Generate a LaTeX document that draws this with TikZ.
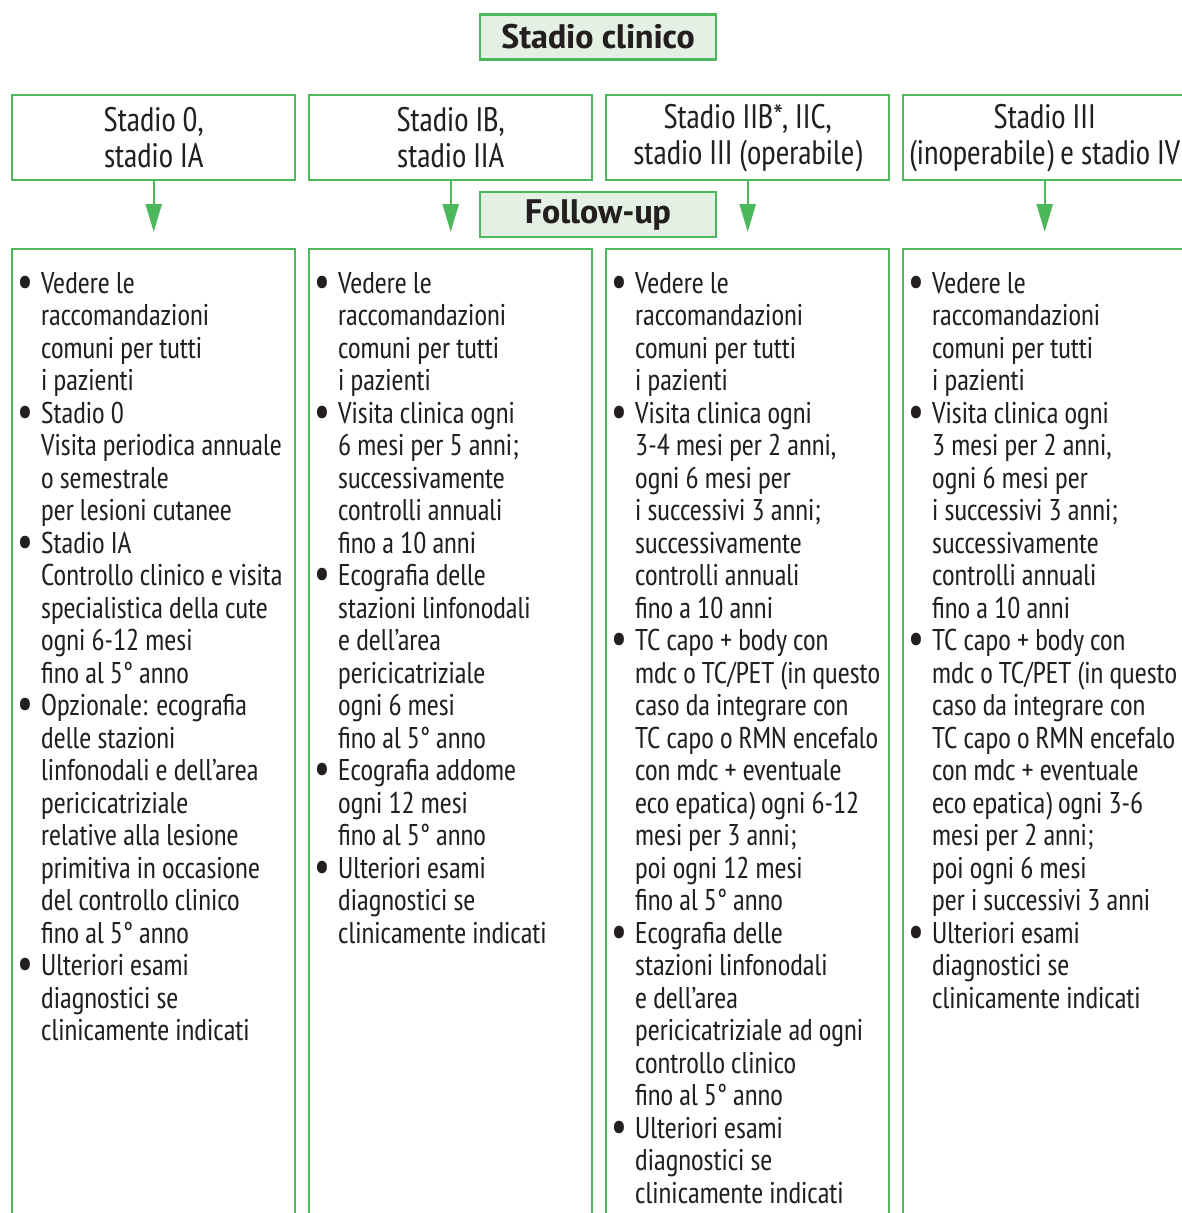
\documentclass[tikz,border=0pt]{standalone}
\usepackage{fontspec}
\setmainfont{PT Sans Narrow}[FakeStretch=0.97,BoldFeatures={FakeStretch=1.2}]
\usetikzlibrary{positioning,arrows.meta}
\definecolor{lgreen}{HTML}{4CB85C}
\definecolor{pgreen}{HTML}{E3F0E3}
\definecolor{ink}{HTML}{231F20}
\tikzset{
  stadiobox/.style={draw=lgreen,line width=2.4pt,minimum width=283pt,minimum height=85pt,inner sep=0pt,anchor=north west,align=center,font=\fontsize{34}{36}\selectfont,text=ink},
  fubox/.style={draw=lgreen,line width=2.4pt,minimum width=283pt,minimum height=1100pt,anchor=north west},
  titlebox/.style={draw=lgreen,fill=pgreen,line width=2.4pt,minimum width=236pt,minimum height=45pt,inner sep=0pt,font=\bfseries\fontsize{34}{36}\selectfont,text=ink},
  voci/.style={inner sep=0pt,below right=22.5pt and 9pt of #1,font=\fontsize{30}{32.5}\selectfont,text=ink},
  freccia/.style={draw=lgreen,line width=2.4pt,-{Triangle[width=16pt,length=28pt]},shorten >=16pt},
}
\newcommand{\vv}{\hspace*{-3pt}\raisebox{-3pt}{\scalebox{1.5}{\textbullet}}}
\newcommand{\elenco}[1]{\begin{tabular}{@{}p{21pt}@{}l@{}}#1\end{tabular}}
\begin{document}
\begin{tikzpicture}[x=1pt,y=1pt]
  \useasboundingbox (0,0) rectangle (1182,-1213);
  \clip (0,0) rectangle (1182,-1213);
  \node[titlebox] (clin) at (598,-37) {Stadio clinico};
  \node[stadiobox] (s1) at (11,-94) {Stadio 0,\\stadio IA};
  \node[stadiobox] (s2) at (308,-94) {Stadio IB,\\stadio IIA};
  \node[stadiobox] (s3) at (605,-94) {Stadio IIB*, IIC,\\stadio III (operabile)};
  \node[stadiobox] (s4) at (902,-94) {Stadio III\\(inoperabile) e stadio IV};
  \node[titlebox] (fup) at (598,-214.5) {Follow-up};
  \node[fubox] (f1) at (11,-248) {};
  \node[fubox] (f2) at (308,-248) {};
  \node[fubox] (f3) at (605,-248) {};
  \node[fubox] (f4) at (902,-248) {};
  \draw[freccia] (s1) -- (f1);
  \draw[freccia] (s2) -- (f2);
  \draw[freccia] (s3) -- (f3);
  \draw[freccia] (s4) -- (f4);
  \node[voci=f1.north west] (t1) {\elenco{%
    \vv & Vedere le\\ & raccomandazioni\\ & comuni per tutti\\ & i pazienti\\
    \vv & Stadio 0\\ & Visita periodica annuale\\ & o semestrale\\ & per lesioni cutanee\\
    \vv & Stadio IA\\ & Controllo clinico e visita\\ & specialistica della cute\\ & ogni 6-12 mesi\\ & fino al 5° anno\\
    \vv & Opzionale: ecografia\\ & delle stazioni\\ & linfonodali e dell’area\\ & pericicatriziale\\ & relative alla lesione\\ & primitiva in occasione\\ & del controllo clinico\\ & fino al 5° anno\\
    \vv & Ulteriori esami\\ & diagnostici se\\ & clinicamente indicati}};
  \node[voci=f2.north west] (t2) {\elenco{%
    \vv & Vedere le\\ & raccomandazioni\\ & comuni per tutti\\ & i pazienti\\
    \vv & Visita clinica ogni\\ & 6 mesi per 5 anni;\\ & successivamente\\ & controlli annuali\\ & fino a 10 anni\\
    \vv & Ecografia delle\\ & stazioni linfonodali\\ & e dell’area\\ & pericicatriziale\\ & ogni 6 mesi\\ & fino al 5° anno\\
    \vv & Ecografia addome\\ & ogni 12 mesi\\ & fino al 5° anno\\
    \vv & Ulteriori esami\\ & diagnostici se\\ & clinicamente indicati}};
  \node[voci=f3.north west] (t3) {\elenco{%
    \vv & Vedere le\\ & raccomandazioni\\ & comuni per tutti\\ & i pazienti\\
    \vv & Visita clinica ogni\\ & 3-4 mesi per 2 anni,\\ & ogni 6 mesi per\\ & i successivi 3 anni;\\ & successivamente\\ & controlli annuali\\ & fino a 10 anni\\
    \vv & TC capo + body con\\ & mdc o TC/PET (in questo\\ & caso da integrare con\\ & TC capo o RMN encefalo\\ & con mdc + eventuale\\ & eco epatica) ogni 6-12\\ & mesi per 3 anni;\\ & poi ogni 12 mesi\\ & fino al 5° anno\\
    \vv & Ecografia delle\\ & stazioni linfonodali\\ & e dell’area\\ & pericicatriziale ad ogni\\ & controllo clinico\\ & fino al 5° anno\\
    \vv & Ulteriori esami\\ & diagnostici se\\ & clinicamente indicati}};
  \node[voci=f4.north west] (t4) {\elenco{%
    \vv & Vedere le\\ & raccomandazioni\\ & comuni per tutti\\ & i pazienti\\
    \vv & Visita clinica ogni\\ & 3 mesi per 2 anni,\\ & ogni 6 mesi per\\ & i successivi 3 anni;\\ & successivamente\\ & controlli annuali\\ & fino a 10 anni\\
    \vv & TC capo + body con\\ & mdc o TC/PET (in questo\\ & caso da integrare con\\ & TC capo o RMN encefalo\\ & con mdc + eventuale\\ & eco epatica) ogni 3-6\\ & mesi per 2 anni;\\ & poi ogni 6 mesi\\ & per i successivi 3 anni\\
    \vv & Ulteriori esami\\ & diagnostici se\\ & clinicamente indicati}};
\end{tikzpicture}
\end{document}
